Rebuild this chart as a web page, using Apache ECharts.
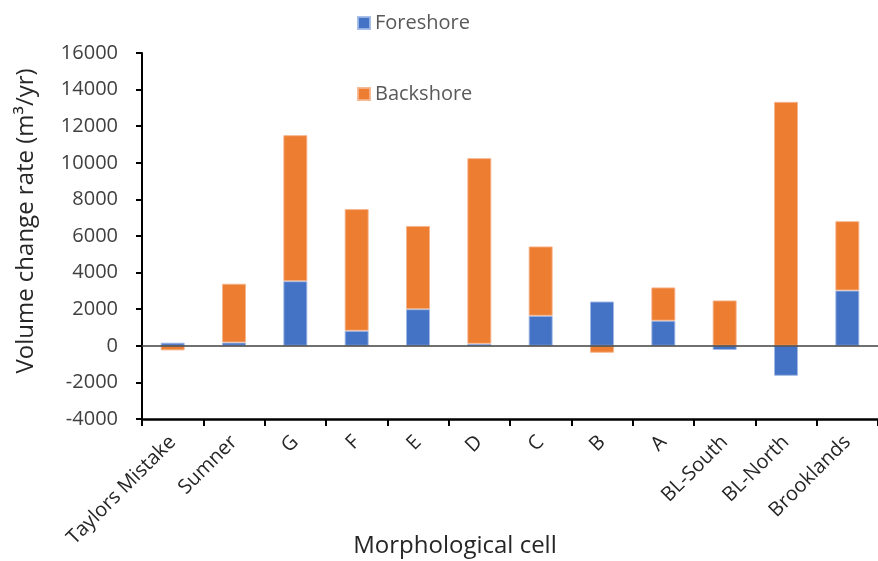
<!DOCTYPE html>
<html>
<head>
<meta charset="utf-8">
<script src="https://cdn.jsdelivr.net/npm/echarts@6/dist/echarts.min.js"></script>
<style>
  html, body { margin: 0; padding: 0; background: #ffffff; }
  #chart { width: 878px; height: 561px; }
</style>
</head>
<body>
<div id="chart"></div>
<script>
const categories = ['Taylors Mistake', 'Sumner', 'G', 'F', 'E', 'D', 'C', 'B', 'A', 'BL-South', 'BL-North', 'Brooklands'];
const foreshore = [170, 180, 3530, 820, 2000, 110, 1640, 2420, 1370, -230, -1640, 3020];
const backshore = [-250, 3210, 7980, 6650, 4550, 10145, 3790, -380, 1820, 2480, 13330, 3790];
const yTicks = { min: -4000, max: 16000, interval: 2000 };

const FONT = '"Open Sans", "Noto Sans", sans-serif';
const chart = echarts.init(document.getElementById('chart'), null, { renderer: 'canvas' });

chart.setOption({
  animation: false,
  backgroundColor: '#ffffff',
  textStyle: { fontFamily: FONT },
  legend: {
    orient: 'vertical',
    left: 352,
    top: 8,
    itemGap: 51,
    itemWidth: 12,
    itemHeight: 12,
    icon: 'rect',
    textStyle: { fontFamily: FONT, fontSize: 20, color: '#595959' },
    data: ['Foreshore', 'Backshore']
  },
  grid: { left: 142, right: 0, top: 53, bottom: 142, containLabel: false, outerBoundsMode: 'none' },
  xAxis: {
    type: 'category',
    data: categories,
    name: 'Morphological cell',
    nameLocation: 'middle',
    nameGap: 115,
    nameMoveOverlap: false,
    nameTextStyle: { fontFamily: FONT, fontSize: 24, color: '#262626', padding: [0, 110, 0, 0] },
    axisLine: { onZero: false, lineStyle: { color: '#000000', width: 2.5 } },
    axisTick: { show: true, alignWithLabel: false, length: 7, lineStyle: { color: '#000000', width: 2 } },
    axisLabel: { interval: 0, rotate: 45, margin: 20, fontFamily: FONT, fontSize: 20, color: '#262626' },
    splitLine: { show: false }
  },
  yAxis: {
    type: 'value',
    min: yTicks.min,
    max: yTicks.max,
    interval: yTicks.interval,
    name: 'Volume change rate (m³/yr)',
    nameLocation: 'middle',
    nameGap: 104,
    nameMoveOverlap: false,
    nameTextStyle: { fontFamily: FONT, fontSize: 24, color: '#262626', padding: [0, 0, 0, 30] },
    axisLine: { show: true, lineStyle: { color: '#000000', width: 2 } },
    axisTick: { show: true, length: 6, lineStyle: { color: '#000000', width: 2 } },
    axisLabel: { margin: 24, fontFamily: FONT, fontSize: 20, color: '#404040', formatter: function (v) { return String(v); } },
    splitLine: { show: false }
  },
  series: [
    {
      name: 'Foreshore',
      type: 'bar',
      stack: 'total',
      barWidth: 24,
      data: foreshore,
      itemStyle: { color: '#4472C4', borderColor: 'rgba(160,185,230,0.9)', borderWidth: 1 },
      markLine: {
        silent: true,
        symbol: ['none', 'none'],
        label: { show: false },
        lineStyle: { color: '#404040', width: 1.5, type: 'solid' },
        data: [{ yAxis: 0 }],
        z: 10
      }
    },
    {
      name: 'Backshore',
      type: 'bar',
      stack: 'total',
      barWidth: 24,
      data: backshore,
      itemStyle: { color: '#ED7D31', borderColor: 'rgba(245,180,140,0.9)', borderWidth: 1 }
    }
  ]
});
</script>
</body>
</html>
